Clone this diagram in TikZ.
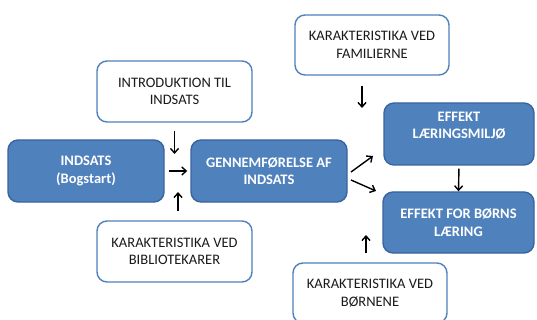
\documentclass[tikz,border=0pt]{standalone}
\usepackage{fontspec}
\setmainfont{Carlito}
\usetikzlibrary{arrows.meta}
\definecolor{boxblue}{HTML}{4F81BD}
\definecolor{boxedge}{HTML}{3A64A0}
\definecolor{txtdark}{HTML}{1A1A1A}
\tikzset{
  basebox/.style={rounded corners=10pt, line width=1.4pt, inner sep=0pt, align=center,
    font=\fontsize{14.5}{17.5}\selectfont},
  bluebox/.style={basebox, fill=boxblue, draw=boxedge, text=white,
    font=\fontsize{14.5}{17.5}\selectfont\bfseries},
  whitebox/.style={basebox, fill=white, draw=boxblue, text=txtdark},
  arr/.style={line width=1.4pt, -{Straight Barb[length=4.5pt,width=8pt]}}
}
\begin{document}
\begin{tikzpicture}[x=1pt,y=-1pt]
\useasboundingbox[fill=white] (0,0) rectangle (537,320);
% nodes
\node[whitebox, minimum width=155pt, minimum height=61pt] (intro) at (174.5,91.5) {INTRODUKTION TIL\\INDSATS};
\node[bluebox, minimum width=156pt, minimum height=62pt] (indsats) at (86,171) {INDSATS\\(Bogstart)};
\node[bluebox, minimum width=156pt, minimum height=62pt] (gennem) at (269,171) {GENNEMFØRELSE AF\\INDSATS};
\node[whitebox, minimum width=155pt, minimum height=61pt] (bibl) at (174.5,251.5) {KARAKTERISTIKA VED\\BIBLIOTEKARER};
\node[whitebox, minimum width=154pt, minimum height=60pt] (famil) at (372,45) {KARAKTERISTIKA VED\\FAMILIERNE};
\node[bluebox, minimum width=150pt, minimum height=62pt] (effl) at (459,134) {EFFEKT\\LÆRINGSMILJØ\\~};
\node[bluebox, minimum width=151pt, minimum height=61pt] (effb) at (458.5,222.5) {EFFEKT FOR BØRNS\\LÆRING};
\node[whitebox, minimum width=154pt, minimum height=60pt] (boern) at (370,293) {KARAKTERISTIKA VED\\BØRNENE};
% free arrow ends
\coordinate (e1) at (174.5,154);
\coordinate (s2) at (178,212);
\coordinate (e2) at (178,192);
\coordinate (s3) at (362,85);
\coordinate (e3) at (362,108);
\coordinate (s4) at (351,172);
\coordinate (e4) at (373,156);
\coordinate (s5) at (351,180);
\coordinate (e5) at (376,191);
\coordinate (s6) at (366,254);
\coordinate (e6) at (366,235);
% connectors
\draw[arr, shorten <=8pt] (intro.south) -- (e1);
\draw[arr, shorten <=4pt, shorten >=3pt] (indsats) -- (gennem);
\draw[arr, shorten <=9pt] (bibl.north -| s2) -- (e2);
\draw[arr, shorten <=10pt] (famil.south -| s3) -- (e3);
\draw[arr] (s4) -- (e4);
\draw[arr] (s5) -- (e5);
\draw[arr, shorten <=3pt] (effl.south) -- (effb.north);
\draw[arr, shorten <=9pt] (boern.north -| s6) -- (e6);
\end{tikzpicture}
\end{document}
